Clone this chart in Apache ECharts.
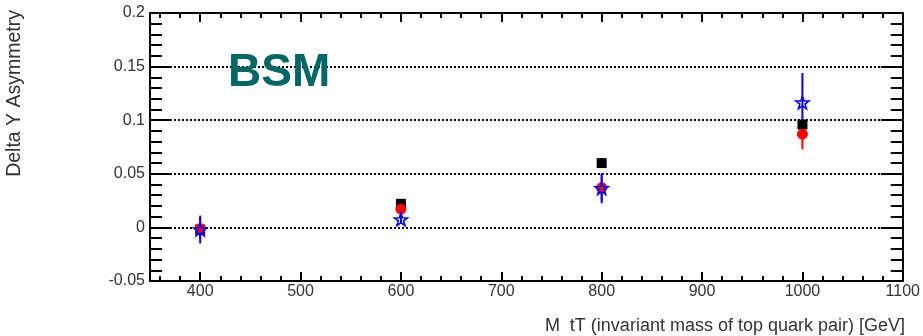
<!DOCTYPE html>
<html>
<head>
<meta charset="utf-8">
<script src="https://cdn.jsdelivr.net/npm/echarts@6/dist/echarts.min.js"></script>
<style>
html,body{margin:0;padding:0;background:#fff;}
#chart{width:923px;height:336px;}
</style>
</head>
<body>
<div id="chart"></div>
<script>
// ---- data ----
const masses = [400, 600, 800, 1000];
const blackVals = [-0.002, 0.022, 0.060, 0.096];
const redVals = [-0.001, 0.017, 0.037, 0.087];
const redErr = [0.010, 0.005, 0.012, 0.014];
const blueVals = [-0.002, 0.0075, 0.0365, 0.1165];
const blueErr = [0.013, 0.004, 0.014, 0.0275];
const xMajorTicks = [400, 500, 600, 700, 800, 900, 1000, 1100];
const xMinorTicks = [360, 380, 420, 440, 460, 480, 520, 540, 560, 580, 620, 640, 660, 680, 720, 740, 760, 780, 820, 840, 860, 880, 920, 940, 960, 980, 1020, 1040, 1060, 1080];
const yTickLabels = ['-0.05', '0', '0.05', '0.1', '0.15', '0.2'];
const xTitle = 'M  tT (invariant mass of top quark pair) [GeV]';
const yTitle = 'Delta Y Asymmetry';
const tagText = 'BSM';

const FONT = 'Liberation Sans, Arial, sans-serif';
const STAR = 'path://M50,0 L61.8,33.8 L97.6,34.5 L69,56.2 L79.4,90.5 L50,70 L20.6,90.5 L31,56.2 L2.4,34.5 L38.2,33.8 Z';

const chart = echarts.init(document.getElementById('chart'), null, {renderer: 'canvas'});

function pairs(ys) { return masses.map((m, i) => [m, ys[i]]); }
function errData(ys, es) { return masses.map((m, i) => [m, ys[i], es[i]]); }
function errSeries(ys, es, color) {
  return {
    type: 'custom',
    data: errData(ys, es),
    renderItem: function (params, api) {
      const x = api.value(0), y = api.value(1), e = api.value(2);
      const p1 = api.coord([x, y - e]);
      const p2 = api.coord([x, y + e]);
      return {
        type: 'line',
        shape: {x1: p1[0], y1: p1[1], x2: p2[0], y2: p2[1]},
        style: {stroke: color, lineWidth: 2}
      };
    },
    silent: true,
    animation: false
  };
}

const axisLineStyle = {color: '#000', width: 2};
const tickStyle = {color: '#000', width: 2};

function xAxisDef(pos, major, withLine) {
  return {
    type: 'value', position: pos, min: 350, max: 1100,
    axisLine: {show: withLine, lineStyle: axisLineStyle, onZero: false},
    axisTick: {show: true, inside: true, length: major ? 9 : 5, customValues: major ? xMajorTicks : xMinorTicks, lineStyle: tickStyle},
    axisLabel: (pos === 'bottom' && major) ? {
      show: true, customValues: xMajorTicks, fontFamily: FONT, fontSize: 16, color: '#333', margin: 3,
      formatter: function (v) { return String(Math.round(v)); }
    } : {show: false},
    splitLine: {show: false}
  };
}

const option = {
  animation: false,
  grid: {left: 150, top: 13, width: 755, height: 268, containLabel: false},
  xAxis: [
    xAxisDef('bottom', true, true),
    xAxisDef('bottom', false, false),
    xAxisDef('top', true, true),
    xAxisDef('top', false, false)
  ],
  yAxis: [
    {
      type: 'value', position: 'left', min: -0.05, max: 0.2, interval: 0.05,
      axisLine: {show: true, lineStyle: axisLineStyle, onZero: false},
      axisTick: {show: true, inside: true, length: 22, lineStyle: tickStyle},
      minorTick: {show: true, splitNumber: 5, length: 12, lineStyle: tickStyle},
      axisLabel: {
        show: true, fontFamily: FONT, fontSize: 16, color: '#333', margin: 5,
        formatter: function (v, i) { return yTickLabels[i]; }
      },
      splitLine: {show: true, lineStyle: {color: '#000', width: 2, type: [2, 2]}}
    },
    {
      type: 'value', position: 'right', min: -0.05, max: 0.2, interval: 0.05,
      axisLine: {show: true, lineStyle: axisLineStyle, onZero: false},
      axisTick: {show: true, inside: true, length: 22, lineStyle: tickStyle},
      minorTick: {show: true, splitNumber: 5, length: 12, lineStyle: tickStyle},
      axisLabel: {show: false},
      splitLine: {show: false}
    }
  ],
  series: [
    {
      type: 'scatter', data: pairs(blackVals), symbol: 'rect', symbolSize: 10,
      itemStyle: {color: '#000', opacity: 1}, silent: true
    },
    errSeries(redVals, redErr, '#ff0000'),
    {
      type: 'scatter', data: pairs(redVals), symbol: 'circle', symbolSize: 11,
      itemStyle: {color: '#ff0000', opacity: 1}, silent: true
    },
    errSeries(blueVals, blueErr, '#0000ff'),
    {
      type: 'scatter', data: pairs(blueVals), symbol: STAR, symbolSize: 13, symbolKeepAspect: true,
      itemStyle: {color: 'rgba(0,0,0,0)', borderColor: '#0000ff', borderWidth: 1.6, opacity: 1}, silent: true
    }
  ],
  graphic: [
    {
      type: 'text', left: 228, top: 50, z: 100,
      style: {text: tagText, font: 'bold 46px ' + FONT, fill: '#006666'}
    },
    {
      type: 'text', right: 18, top: 317, z: 100,
      style: {text: xTitle, font: '18px ' + FONT, fill: '#333', align: 'right'}
    },
    {
      type: 'text', left: 5, top: 10, z: 100, rotation: Math.PI / 2, originX: 0, originY: 0,
      style: {text: yTitle, font: '19.5px ' + FONT, fill: '#333'}
    }
  ]
};
chart.setOption(option);
</script>
</body>
</html>
